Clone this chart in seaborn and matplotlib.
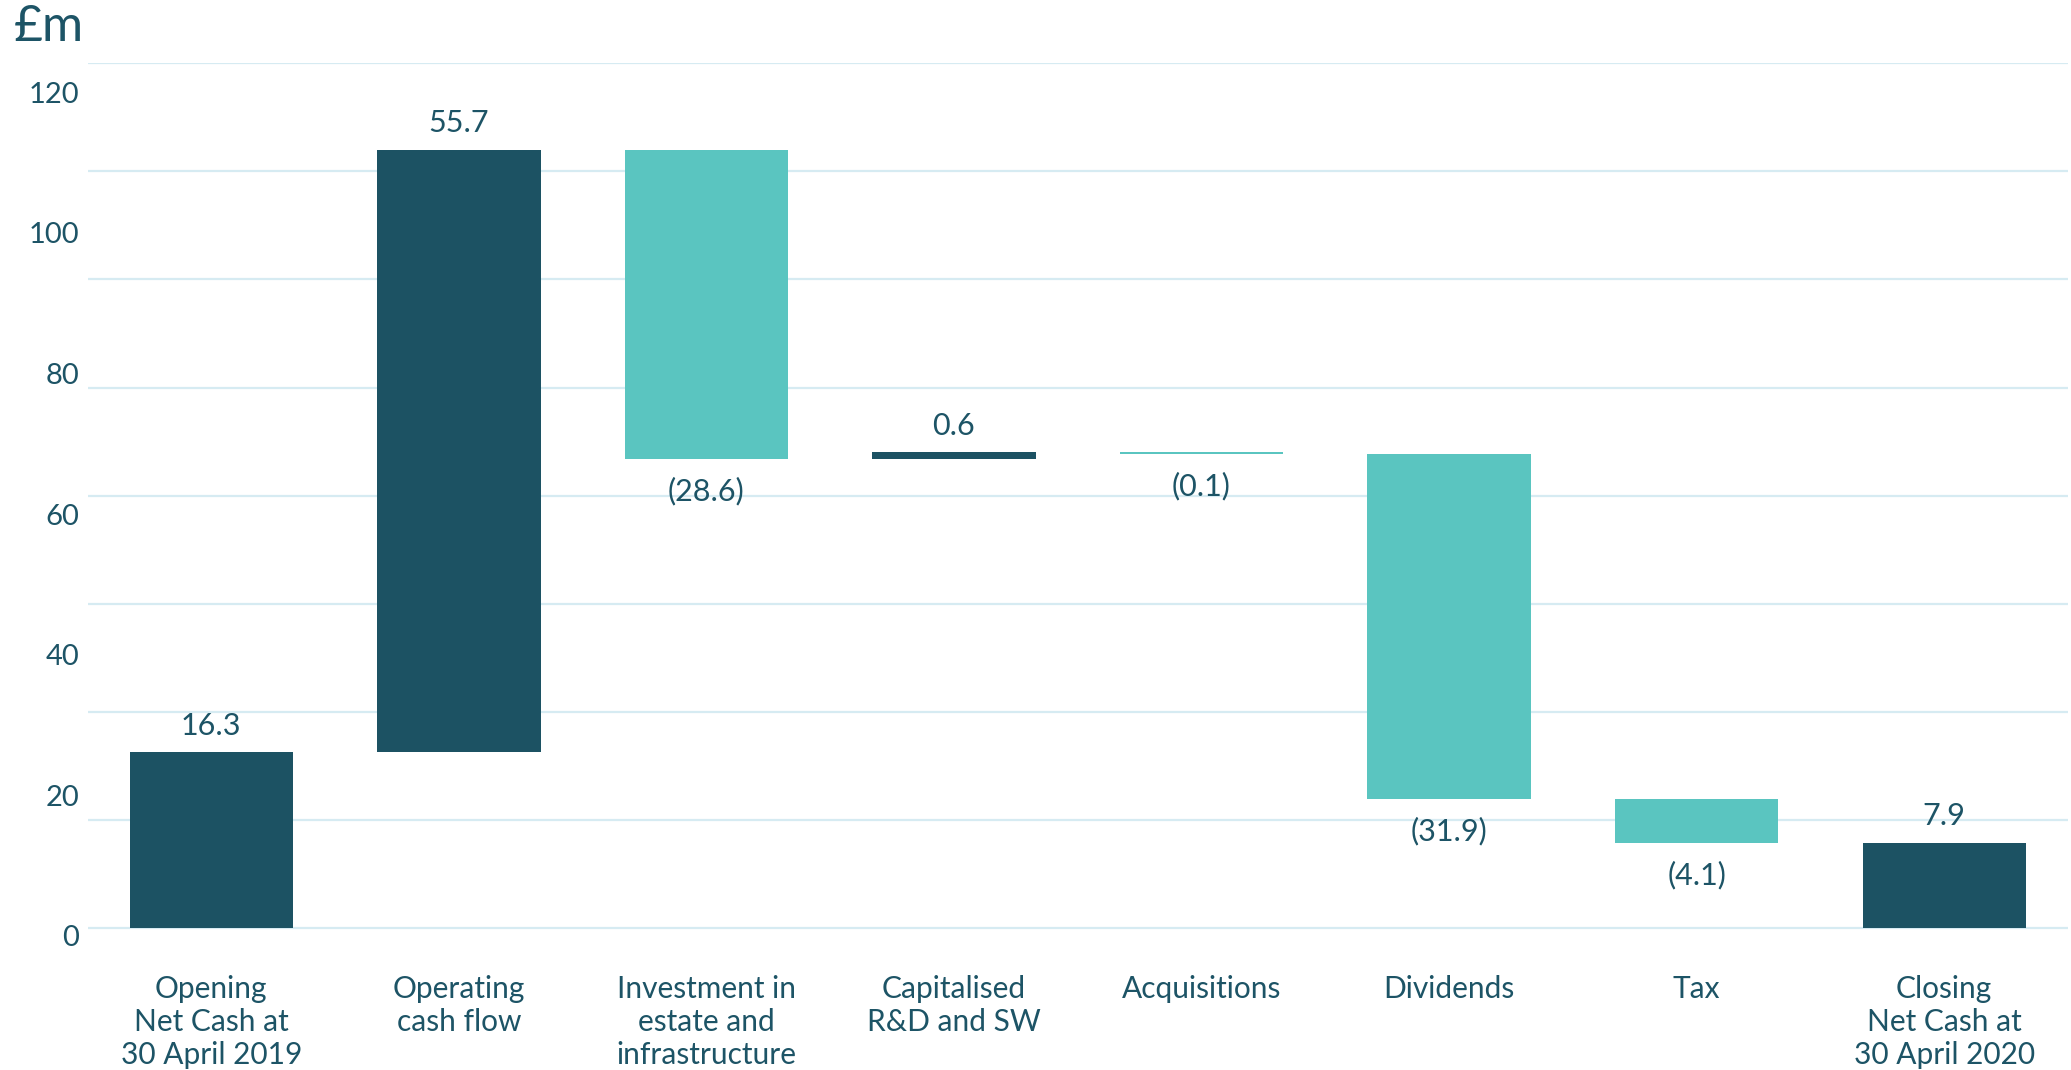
import numpy as np
import pandas as pd
import matplotlib
matplotlib.use("Agg")
import matplotlib.pyplot as plt
import seaborn as sns

# ---- data ----
categories = ["Opening\nNet Cash at\n30 April 2019", "Operating\ncash flow",
              "Investment in\nestate and\ninfrastructure", "Capitalised\nR&D and SW",
              "Acquisitions", "Dividends", "Tax", "Closing\nNet Cash at\n30 April 2020"]
changes = [16.3, 55.7, -28.6, 0.6, -0.1, -31.9, -4.1, 7.9]
is_total = [True, False, False, False, False, False, False, True]
value_labels = ["16.3", "55.7", "(28.6)", "0.6", "(0.1)", "(31.9)", "(4.1)", "7.9"]
ytick_labels = ["0", "20", "40", "60", "80", "100", "120"]

DARK = "#1c5263"
TEAL = "#5ac5c0"
TEXT = "#1d5466"
GRID = "#d6ebf2"

# waterfall geometry derived from the data
bottoms, tops = [], []
running = 0.0
for c, tot in zip(changes, is_total):
    if tot:
        bottoms.append(0.0); tops.append(c); running = c
    else:
        new = running + c
        bottoms.append(min(running, new)); tops.append(max(running, new)); running = new
colors = [DARK if (tot or c > 0) else TEAL for c, tot in zip(changes, is_total)]

df = pd.DataFrame({"cat": categories, "top": tops})

sns.set_style("white")
plt.rcParams["font.family"] = ["Lato", "DejaVu Sans"]

fig = plt.figure(figsize=(20.71, 10.70), dpi=100)
ax_bottom_px = 936
ax = fig.add_axes([87.5 / 2071, (1070 - ax_bottom_px) / 1070,
                   (2068 - 87.5) / 2071, (ax_bottom_px - 63) / 1070])

sns.barplot(data=df, x="cat", y="top", hue="cat", palette=colors, legend=False,
            width=0.66, saturation=1, ax=ax, zorder=3)

for p, b, t in zip(ax.patches, bottoms, tops):
    p.set_y(b)
    p.set_height(t - b)
    p.set_linewidth(0)

ax.set_xlim(-0.5, 7.5)
ax.set_ylim(0, 80)

# gridlines at every 10 units (minor ticks)
ax.set_yticks(np.arange(0, 81, 10), minor=True)
ax.yaxis.grid(True, which="minor", color=GRID, linewidth=1.6, zorder=0)
ax.yaxis.grid(False, which="major")
ax.xaxis.grid(False)
ax.set_axisbelow(True)

# tick labels (as printed in the source, evenly spaced)
ax.set_yticks([i * 13 - 0.7 for i in range(len(ytick_labels))])
ax.set_yticklabels(ytick_labels, fontsize=21, color=TEXT)
ax.tick_params(axis="y", which="both", length=0, pad=6)
ax.set_xticks(range(len(categories)))
ax.set_xticklabels(categories, fontsize=21.5, color=TEXT, linespacing=1.22)
ax.tick_params(axis="x", length=0, pad=28)

for s in ax.spines.values():
    s.set_visible(False)
ax.set_xlabel("")
ax.set_ylabel("")

# value labels
for i, (c, b, t, lab) in enumerate(zip(changes, bottoms, tops, value_labels)):
    if c > 0:
        ax.annotate(lab, (i, t), xytext=(0, 9), textcoords="offset points",
                    ha="center", va="bottom", fontsize=22, color=TEXT)
    else:
        ax.annotate(lab, (i, b), xytext=(0, -13), textcoords="offset points",
                    ha="center", va="top", fontsize=22, color=TEXT)

fig.text(14 / 2071, 1 - 27 / 1070, "£m", fontsize=36, color=TEXT, ha="left", va="center")

fig.savefig("out.png", dpi=100)
